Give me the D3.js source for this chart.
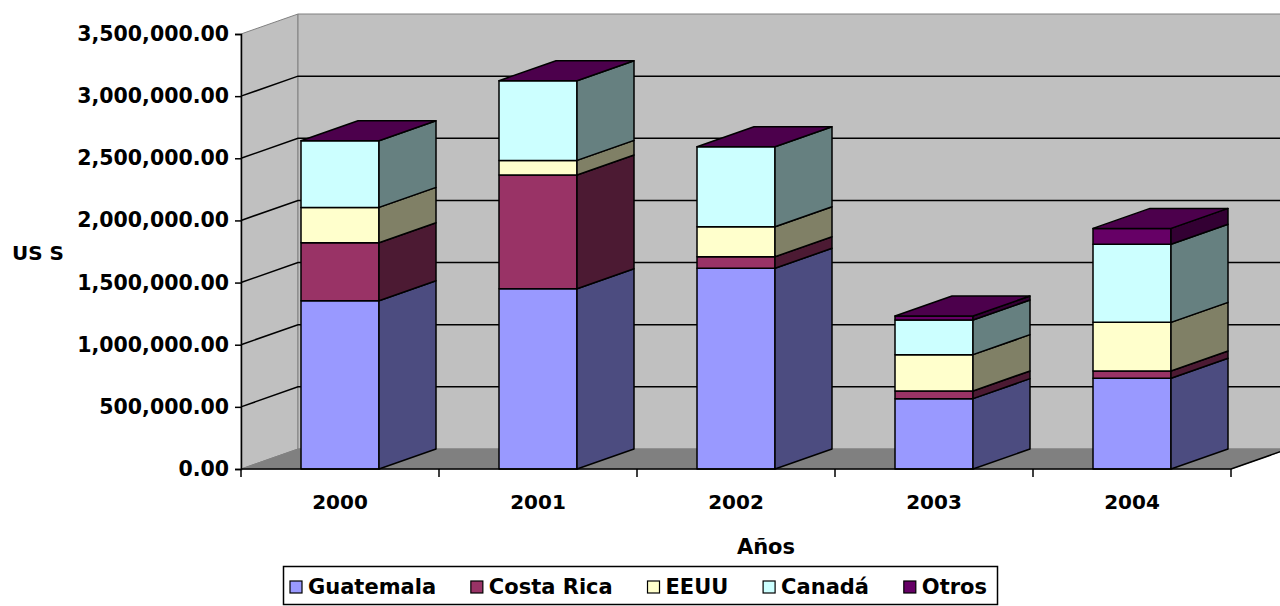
<!DOCTYPE html>
<html>
<head>
<meta charset="utf-8">
<script src="https://d3js.org/d3.v7.min.js"></script>
<style>
  body { margin: 0; background: #fff; }
  svg text { font-family: "DejaVu Sans", sans-serif; font-weight: bold; fill: #000; }
</style>
</head>
<body>
<svg width="1280" height="606"></svg>
<script>
// data (US$)
var years = ['2000', '2001', '2002', '2003', '2004'];
var seriesNames = ['Guatemala', 'Costa Rica', 'EEUU', 'Canadá', 'Otros'];
var guatemala = [1354000, 1450000, 1615000, 566000, 730000];
var costaRica = [467000, 915000, 93000, 62000, 58000];
var eeuu = [284000, 118000, 241000, 292000, 392000];
var canada = [536000, 641000, 644000, 279000, 628000];
var otros = [0, 0, 0, 32000, 128000];
var yTicks = [0, 500000, 1000000, 1500000, 2000000, 2500000, 3000000, 3500000];

// colours: front face, side face
var frontColors = ['#9999FF', '#993366', '#FFFFCC', '#CCFFFF', '#660066'];
var sideColors = ['#4C4C80', '#4C1A33', '#808066', '#668080', '#330033'];
var topColor = '#4C004C';

var svg = d3.select('svg');

// layout parameters
var plot = {l: 241, r: 1231, t: 34, b: 469};
var depth = {dx: 57, dy: -20};

var rows = years.map(function(yr, i) {
    return {year: yr, 'Guatemala': guatemala[i], 'Costa Rica': costaRica[i],
            'EEUU': eeuu[i], 'Canadá': canada[i], 'Otros': otros[i]};
});
var stacked = d3.stack().keys(seriesNames)(rows);

var p = 120 / 198;
var x = d3.scaleBand()
    .domain(years)
    .range([plot.l, plot.r])
    .paddingInner(p)
    .paddingOuter(p / 2);
var y = d3.scaleLinear()
    .domain([0, 3500000])
    .range([plot.b, plot.t]);

var bw = x.bandwidth();
var yTop = y(3500000), yBot = y(0);

function poly(pts) {
    return 'M' + pts.map(function(q) { return q.join(','); }).join('L') + 'Z';
}

// walls and floor
var walls = svg.append('g');
walls.append('path')
    .attr('d', poly([[plot.l, yBot], [plot.l + depth.dx, yBot + depth.dy],
                     [plot.l + depth.dx, yTop + depth.dy], [plot.l, yTop]]))
    .attr('fill', '#C0C0C0').attr('stroke', '#808080');
walls.append('path')
    .attr('d', poly([[plot.l + depth.dx, yBot + depth.dy], [plot.r + depth.dx, yBot + depth.dy],
                     [plot.r + depth.dx, yTop + depth.dy], [plot.l + depth.dx, yTop + depth.dy]]))
    .attr('fill', '#C0C0C0').attr('stroke', '#808080');
walls.append('path')
    .attr('d', poly([[plot.l, yBot], [plot.r, yBot],
                     [plot.r + depth.dx, yBot + depth.dy], [plot.l + depth.dx, yBot + depth.dy]]))
    .attr('fill', '#808080').attr('stroke', '#808080');

// gridlines on side and back wall
walls.selectAll('.grid')
    .data(yTicks.filter(function(v) { return v > 0 && v < 3500000; }))
    .enter().append('path')
    .attr('class', 'grid')
    .attr('fill', 'none')
    .attr('stroke', '#000')
    .attr('stroke-width', 1.5)
    .attr('d', function(v) {
        var yy = y(v);
        return 'M' + plot.l + ',' + yy + 'L' + (plot.l + depth.dx) + ',' + (yy + depth.dy) +
               'L' + (plot.r + depth.dx) + ',' + (yy + depth.dy);
    });

// floor right edge
walls.append('line')
    .attr('x1', plot.r).attr('y1', yBot)
    .attr('x2', plot.r + depth.dx).attr('y2', yBot + depth.dy)
    .attr('stroke', '#000').attr('stroke-width', 1.5);

// bars
var barsG = svg.append('g')
    .attr('stroke', '#000')
    .attr('stroke-width', 1.5)
    .attr('stroke-linejoin', 'round');

years.forEach(function(yr, j) {
    var xl = x(yr), xr = xl + bw;
    var bar = barsG.append('g').attr('class', 'bar');
    stacked.forEach(function(layer, i) {
        var y0 = y(layer[j][0]), y1 = y(layer[j][1]);
        if (y0 - y1 < 0.01) return;
        bar.append('path')
            .attr('d', poly([[xl, y0], [xr, y0], [xr, y1], [xl, y1]]))
            .attr('fill', frontColors[i]);
        bar.append('path')
            .attr('d', poly([[xr, y0], [xr + depth.dx, y0 + depth.dy],
                             [xr + depth.dx, y1 + depth.dy], [xr, y1]]))
            .attr('fill', sideColors[i]);
    });
    var yt = y(stacked[stacked.length - 1][j][1]);
    bar.append('path')
        .attr('d', poly([[xl, yt], [xr, yt], [xr + depth.dx, yt + depth.dy], [xl + depth.dx, yt + depth.dy]]))
        .attr('fill', topColor);
});

// y axis
var yAxisG = svg.append('g')
    .attr('transform', 'translate(' + plot.l + ',0)')
    .call(d3.axisLeft(y).tickValues(yTicks).tickFormat(d3.format(',.2f')).tickSizeOuter(0).tickSize(6).tickPadding(6));
yAxisG.selectAll('path, line').attr('stroke', '#000').attr('stroke-width', 1.5);
yAxisG.selectAll('text').style('font-size', '20.5px').style('font-family', '"DejaVu Sans", sans-serif').style('font-weight', 'bold');

// x axis
var xAxisG = svg.append('g');
xAxisG.append('line')
    .attr('x1', plot.l).attr('x2', plot.r)
    .attr('y1', yBot).attr('y2', yBot)
    .attr('stroke', '#000').attr('stroke-width', 1.5);
xAxisG.selectAll('.xtick')
    .data(d3.range(years.length + 1))
    .enter().append('line')
    .attr('x1', function(i) { return plot.l + i * x.step(); })
    .attr('x2', function(i) { return plot.l + i * x.step(); })
    .attr('y1', yBot).attr('y2', yBot + 8)
    .attr('stroke', '#000').attr('stroke-width', 1.5);
xAxisG.selectAll('.xlabel')
    .data(years)
    .enter().append('text')
    .attr('x', function(d) { return x(d) + bw / 2; })
    .attr('y', 502)
    .attr('text-anchor', 'middle')
    .attr('dominant-baseline', 'central')
    .style('font-size', '20px')
    .text(function(d) { return d; });

// axis titles
svg.append('text')
    .attr('x', 38).attr('y', 253)
    .attr('text-anchor', 'middle')
    .attr('dominant-baseline', 'central')
    .style('font-size', '20px')
    .text('US S');
svg.append('text')
    .attr('x', 766).attr('y', 547)
    .attr('text-anchor', 'middle')
    .attr('dominant-baseline', 'central')
    .style('font-size', '21px')
    .text('Años');

// legend: items laid out one after another, spread over the box
var legendBox = {x: 283.5, y: 566.5, w: 714, h: 38};
var legend = svg.append('g');
legend.append('rect')
    .attr('x', legendBox.x).attr('y', legendBox.y)
    .attr('width', legendBox.w).attr('height', legendBox.h)
    .attr('fill', '#fff').attr('stroke', '#000').attr('stroke-width', 1.5);
var items = legend.selectAll('.item')
    .data(seriesNames)
    .enter().append('g')
    .attr('class', 'item');
items.append('rect')
    .attr('x', 0).attr('y', -6)
    .attr('width', 12).attr('height', 12)
    .attr('fill', function(d, i) { return frontColors[i]; })
    .attr('stroke', '#000').attr('stroke-width', 1.2);
items.append('text')
    .attr('x', 18)
    .attr('dominant-baseline', 'central')
    .style('font-size', '21px')
    .text(function(d) { return d; });

var widths = [];
items.select('text').each(function() { widths.push(18 + this.getComputedTextLength()); });
var startX = 290, endX = 987;
var gap = (endX - startX - d3.sum(widths)) / (widths.length - 1);
var cx = startX;
items.attr('transform', function(d, i) {
    var t = 'translate(' + cx + ',587)';
    cx += widths[i] + gap;
    return t;
});
</script>
</body>
</html>
